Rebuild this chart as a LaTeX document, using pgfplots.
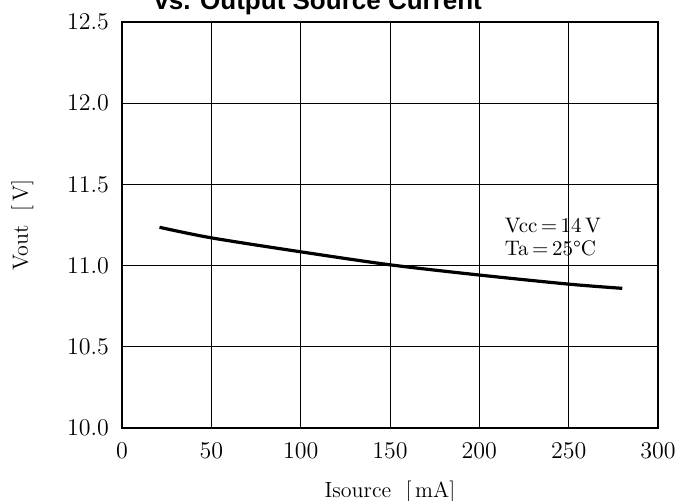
\documentclass[border=0pt]{standalone}
\usepackage{pgfplots}
\pgfplotsset{compat=1.18}
\usepackage{fontspec}
\newfontfamily\titlefont{Liberation Sans}

\begin{document}
\begin{tikzpicture}
\begin{axis}[
  name=ax,
  scale only axis,
  width=268pt, height=203pt,
  xmin=0, xmax=300, ymin=10, ymax=12.5,
  xtick={0,50,...,300},
  ytick={10,10.5,...,12.5},
  yticklabel style={/pgf/number format/fixed,
    /pgf/number format/fixed zerofill,
    /pgf/number format/precision=1},
  major tick length=0pt,
  tick label style={font=\fontsize{11.8}{13}\selectfont},
  xticklabel style={yshift=-4pt},
  yticklabel style={xshift=-3pt},
  grid=major,
  major grid style={black, line width=0.5pt},
  axis line style={line width=1.4pt},
  xlabel={Isource\ \ [\,mA]},
  ylabel={Vout\ \ [\,V]},
  label style={font=\fontsize{11}{13}\selectfont},
  xlabel style={yshift=-4.5pt},
  ylabel style={yshift=10pt},
  clip=false,
]
\addplot[black, line width=1.6pt, smooth] coordinates {
  (21,11.236) (50,11.171) (100,11.085) (150,11.005)
  (200,10.942) (250,10.886) (280,10.860)
};
\node[anchor=base west, font=\fontsize{10.5}{12}\selectfont, inner sep=0pt]
  at (axis cs:214,11.205) {Vcc\,=\,14\,V};
\node[anchor=base west, font=\fontsize{10.5}{12}\selectfont, inner sep=0pt]
  at (axis cs:214,11.063) {Ta\,=\,25\textdegree C};
\node[anchor=base, font=\titlefont\bfseries\fontsize{13}{15}\selectfont, inner sep=0pt]
  at (rel axis cs:0.366,1) [yshift=6.5pt] {vs. Output Source Current};
\end{axis}
\pgfresetboundingbox
\path[use as bounding box] ([xshift=-61pt,yshift=-36pt]ax.south west)
  rectangle ([xshift=15.5pt,yshift=11pt]ax.north east);
\end{tikzpicture}
\end{document}
